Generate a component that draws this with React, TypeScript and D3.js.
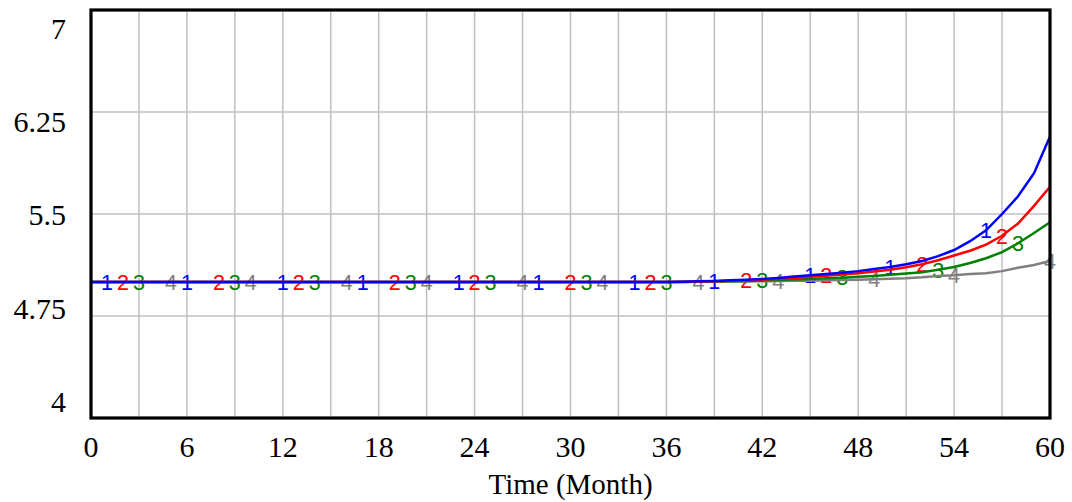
import React, { useEffect, useRef } from "react";
import * as d3 from "d3";

// months 0..60
const months = [
  0, 1, 2, 3, 4, 5, 6, 7, 8, 9, 10, 11, 12, 13, 14, 15, 16, 17, 18, 19, 20,
  21, 22, 23, 24, 25, 26, 27, 28, 29, 30, 31, 32, 33, 34, 35, 36, 37, 38, 39, 40,
  41, 42, 43, 44, 45, 46, 47, 48, 49, 50, 51, 52, 53, 54, 55, 56, 57, 58, 59, 60,
];

const series1 = [
  5, 5, 5, 5, 5, 5, 5, 5, 5, 5, 5, 5, 5, 5, 5, 5, 5, 5, 5, 5, 5,
  5, 5, 5, 5, 5, 5, 5, 5, 5, 5, 5, 5, 5, 5, 5, 5, 5.002, 5.005, 5.008, 5.012,
  5.016, 5.022, 5.03, 5.04, 5.05, 5.058, 5.068, 5.08, 5.095, 5.11,
  5.13, 5.155, 5.19, 5.235, 5.3, 5.38, 5.5, 5.63, 5.8, 6.07,
];
const series2 = [
  5, 5, 5, 5, 5, 5, 5, 5, 5, 5, 5, 5, 5, 5, 5, 5, 5, 5, 5, 5, 5,
  5, 5, 5, 5, 5, 5, 5, 5, 5, 5, 5, 5, 5, 5, 5, 5, 5.001, 5.003, 5.006, 5.009,
  5.012, 5.017, 5.023, 5.03, 5.038, 5.046, 5.055, 5.065, 5.077, 5.09,
  5.108, 5.13, 5.16, 5.195, 5.23, 5.275, 5.34, 5.43, 5.56, 5.7,
];
const series3 = [
  5, 5, 5, 5, 5, 5, 5, 5, 5, 5, 5, 5, 5, 5, 5, 5, 5, 5, 5, 5, 5,
  5, 5, 5, 5, 5, 5, 5, 5, 5, 5, 5, 5, 5, 5, 5, 5, 5, 5.002, 5.004, 5.006,
  5.008, 5.011, 5.014, 5.018, 5.022, 5.027, 5.032, 5.038, 5.045, 5.053,
  5.062, 5.072, 5.09, 5.11, 5.14, 5.175, 5.22, 5.285, 5.36, 5.44,
];
const series4 = [
  5, 5, 5, 5, 5, 5, 5, 5, 5, 5, 5, 5, 5, 5, 5, 5, 5, 5, 5, 5, 5,
  5, 5, 5, 5, 5, 5, 5, 5, 5, 5, 5, 5, 5, 5, 5, 5, 5, 5.001, 5.002, 5.003,
  5.004, 5.005, 5.007, 5.009, 5.01, 5.012, 5.014, 5.016, 5.02, 5.024,
  5.028, 5.035, 5.045, 5.05, 5.058, 5.065, 5.08, 5.105, 5.125, 5.155,
];

// months where the series number is written on the line
const markers1 = [1, 6, 12, 17, 23, 28, 34, 39, 45, 50, 56];
const markers2 = [2, 8, 13, 19, 24, 30, 35, 41, 46, 52, 57];
const markers3 = [3, 9, 14, 20, 25, 31, 36, 42, 47, 53, 58];
const markers4 = [5, 10, 16, 21, 27, 32, 38, 43, 49, 54, 60];

const xTicks = [0, 6, 12, 18, 24, 30, 36, 42, 48, 54, 60];
const yTicks = [4, 4.75, 5.5, 6.25, 7];
const xGrid = [3, 6, 9, 12, 15, 18, 21, 24, 27, 30, 33, 36, 39, 42, 45, 48, 51, 54, 57];
const yGrid = [4.75, 5.5, 6.25];

const App = () => {
  const svgRef = useRef(null);

  useEffect(() => {
    const svg = d3.select(svgRef.current);
    svg.selectAll("*").remove();

    const left = 91;
    const right = 1050;
    const top = 10;
    const bottom = 418;

    const x = d3.scaleLinear().domain([0, 60]).range([left, right]);
    const y = d3.scaleLinear().domain([4, 7]).range([bottom, top]);
    // vensim squeezes the y labels inside the frame
    const yLab = d3.scaleLinear().domain([4, 7]).range([401.5, 28]);

    const grid = svg.append("g").attr("stroke", "#c0c0c0").attr("stroke-width", 1.5);
    grid
      .selectAll(".vg")
      .data(xGrid)
      .join("line")
      .attr("x1", (d) => x(d))
      .attr("x2", (d) => x(d))
      .attr("y1", top)
      .attr("y2", bottom);
    grid
      .selectAll(".hg")
      .data(yGrid)
      .join("line")
      .attr("y1", (d) => y(d))
      .attr("y2", (d) => y(d))
      .attr("x1", left)
      .attr("x2", right);

    const all = [
      { vals: series1, marks: markers1, color: "#0000ff", label: "1" },
      { vals: series2, marks: markers2, color: "#ff0000", label: "2" },
      { vals: series3, marks: markers3, color: "#008000", label: "3" },
      { vals: series4, marks: markers4, color: "#808080", label: "4" },
    ];

    const lineGen = d3
      .line<number>()
      .x((d, i) => x(months[i]))
      .y((d) => y(d));

    // numbers first, lines drawn over them
    all.forEach((s) => {
      svg
        .append("g")
        .selectAll("text")
        .data(s.marks)
        .join("text")
        .attr("x", (m) => x(m))
        .attr("y", (m) => y(s.vals[months.indexOf(m)]))
        .attr("dy", "0.36em")
        .attr("text-anchor", "middle")
        .attr("font-family", "'Liberation Sans', Arial, sans-serif")
        .attr("font-size", 21.5)
        .attr("fill", s.color)
        .text(s.label);
    });

    all
      .slice()
      .reverse()
      .forEach((s) => {
        svg
          .append("path")
          .datum(s.vals)
          .attr("d", lineGen)
          .attr("fill", "none")
          .attr("stroke", s.color)
          .attr("stroke-width", 2.5);
      });

    // frame
    svg
      .append("rect")
      .attr("x", left)
      .attr("y", top)
      .attr("width", right - left)
      .attr("height", bottom - top)
      .attr("fill", "none")
      .attr("stroke", "#000")
      .attr("stroke-width", 3.2);

    const font = "'Liberation Serif', 'Times New Roman', serif";

    svg
      .append("g")
      .selectAll("text")
      .data(yTicks)
      .join("text")
      .attr("x", 66)
      .attr("y", (d) => yLab(d))
      .attr("dy", "0.35em")
      .attr("text-anchor", "end")
      .attr("font-family", font)
      .attr("font-size", 30)
      .text((d) => String(d));

    svg
      .append("g")
      .selectAll("text")
      .data(xTicks)
      .join("text")
      .attr("x", (d) => x(d))
      .attr("y", 457)
      .attr("text-anchor", "middle")
      .attr("font-family", font)
      .attr("font-size", 30)
      .text((d) => String(d));

    svg
      .append("text")
      .attr("x", (left + right) / 2)
      .attr("y", 494)
      .attr("text-anchor", "middle")
      .attr("font-family", font)
      .attr("font-size", 29)
      .text("Time (Month)");
  }, []);

  return (
    <svg
      ref={svgRef}
      width={1072}
      height={502}
      style={{ position: "absolute", left: 0, top: 0, background: "#fff" }}
    />
  );
};

export default App;
